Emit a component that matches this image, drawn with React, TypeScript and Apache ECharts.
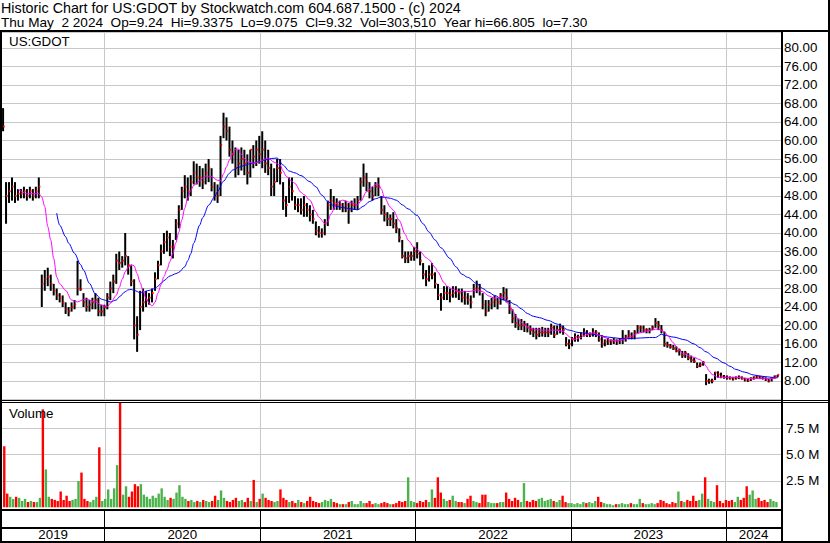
import React, { useEffect, useRef } from 'react';
import * as echarts from 'echarts';

// ---- time frame ----
const FIRST_WEEK = Date.UTC(2019, 4, 8); // Wednesday of first weekly bar
const WEEK_MS = 7 * 24 * 3600 * 1000;
const X_MIN = Date.UTC(2019, 4, 5, 12);
const X_MAX = Date.UTC(2024, 4, 9);
const YEARS = [2019, 2020, 2021, 2022, 2023, 2024];

// ---- weekly prices (USD) ----
const highs = [
  67, 51, 51, 52, 51, 49.5, 49.5, 50, 49.5, 50,
  49.5, 50, 52, 31, 32, 32.5, 31, 29, 28, 27,
  26.5, 25, 24, 25, 25.5, 34, 30, 27, 26, 25.5,
  26, 27, 26, 24.5, 24.5, 27, 29.5, 31, 35.5, 36,
  35, 40, 35, 33, 30, 22, 27.5, 28, 27.5, 27,
  28, 31.5, 34, 37.5, 40, 40.5, 40, 38.5, 43, 46,
  50, 52.5, 52, 52.5, 55.5, 55, 54.5, 54, 55, 56,
  54, 51, 50.5, 61, 66, 65, 63, 60, 58.5, 58,
  58.5, 58, 57, 58, 59, 60, 61, 62, 60, 58,
  55, 54, 56, 56, 51, 48, 52, 52, 48, 47.5,
  47.5, 48, 46.5, 46, 45, 42.5, 41.5, 41, 43, 47,
  49.5, 48, 47.5, 47, 46.5, 47, 46.5, 47, 47.5, 48,
  52, 55, 53, 51, 50, 51, 52, 48, 46, 44.5,
  44, 44.5, 43, 41, 38.5, 36, 36, 36, 37, 38,
  36, 33.5, 32, 33, 33.5, 31.5, 29, 27, 28.5, 28.5,
  28, 28.5, 28.5, 28, 28, 27.5, 27, 26.5, 29, 29.7,
  29, 27, 25.5, 25.5, 26, 26.5, 26, 27, 28.3, 28,
  25.5, 23.5, 22.5, 21.5, 21.4, 21, 20.5, 20, 19.5, 19.5,
  19.5, 19.7, 19.5, 19.5, 20.4, 20, 20, 20.4, 20, 17.5,
  17, 17.5, 18.3, 18, 18.5, 19.4, 19, 18.5, 19.4, 19,
  18.5, 17.9, 17, 17.3, 17, 17.3, 17, 17.3, 19, 18,
  19, 18.5, 19, 20.1, 20, 20, 19.4, 19.5, 20, 21.6,
  21, 20.1, 18.7, 16.5, 16, 15.8, 15.5, 15, 14.5, 14.5,
  14, 13.5, 13, 12, 12, 12.3, 9.5, 8.5, 8.5, 10,
  10.1, 9.8, 9.3, 9.2, 9, 8.9, 9, 9.2, 9, 8.7,
  8.5, 8.8, 9, 9.2, 9.1, 9, 8.8, 8.5, 8.8, 9.2,
  9.34,
];
const lows = [
  62, 42, 46.5, 47, 46.5, 47, 47.5, 47.5, 47, 47.5,
  47, 47.5, 47.5, 24, 27.5, 28.5, 27.5, 26.5, 25.5, 25,
  24, 22.5, 22, 23, 23.5, 26.5, 27.5, 24, 23, 23,
  23.5, 23.5, 22, 22, 22, 23.5, 25.5, 27, 29, 32,
  32.5, 33, 31, 28.5, 17, 14.3, 19, 23, 24, 24.5,
  25, 27.5, 30, 33, 35.5, 36, 35, 34.5, 38.5, 41,
  45, 47.5, 47, 48, 50.5, 50.5, 50, 49.5, 50.5, 51,
  49, 47, 46.5, 48, 60.5, 60, 56.5, 55, 52, 52.5,
  53.5, 52.5, 50.5, 52, 54, 54.5, 55, 54, 53, 52.5,
  48, 48, 51, 50.5, 45, 43.5, 46.5, 47, 45, 44.5,
  44, 43.5, 43.5, 42.5, 42, 39.5, 39, 39, 39.5, 41.5,
  45, 45, 45, 45, 44.5, 44.5, 42, 44.5, 45, 45,
  47, 50, 49, 47.5, 47, 48, 48, 44, 42.5, 41.5,
  41.5, 41, 40, 38, 34.5, 33.5, 33.5, 34, 34, 34.5,
  33, 30, 28.5, 29.5, 30, 28, 25.5, 23.2, 25.5, 25.5,
  25, 26, 26, 25.5, 25, 24.5, 24.5, 23.7, 26, 27,
  26.5, 23.5, 22, 23, 23.5, 24, 23.5, 24.5, 25.5, 25,
  22.5, 20.5, 19.5, 19, 19, 18.6, 18.5, 18, 17.5, 17,
  17.5, 17.6, 17.5, 17.5, 18, 17.3, 18, 18.3, 18, 15.5,
  14.9, 15.5, 16.5, 16.5, 17, 17.6, 17.5, 17.5, 17.6, 17.5,
  16.5, 15.2, 15.5, 15.8, 15.8, 16, 15.8, 16, 16, 16.5,
  17, 17, 17, 18.3, 18.5, 18.5, 18.3, 18.3, 19, 19.5,
  19, 18.3, 15.4, 15.2, 15, 14.7, 14.2, 13.5, 13, 13,
  12.5, 12, 11.9, 10.8, 11, 11.3, 7.1, 7.4, 7.5, 8.2,
  8.7, 8.6, 8.5, 8.3, 8.3, 8.1, 8.3, 8.4, 8.3, 7.9,
  7.8, 8, 8.3, 8.5, 8.4, 8.3, 8, 7.7, 7.9, 8.5,
  8.8,
];
const closes = [
  63, 48, 49, 50, 48, 48.5, 48.5, 49, 48, 49,
  48, 49, 50, 29, 30, 30.5, 29, 27.5, 26.5, 26,
  25, 23.5, 23, 24, 24.5, 28, 27.8, 25, 24, 24.5,
  25, 25.5, 23, 23, 24, 26, 28, 29.5, 34, 33.5,
  34, 35, 33, 29.5, 20, 18, 24, 25, 25.5, 26,
  27, 30, 33, 36, 38, 39, 37, 37, 42, 45,
  49, 50, 49, 51, 53, 52, 52, 51, 53, 54,
  50, 48, 48, 59, 63, 62, 58, 57, 54, 55,
  56, 55, 53, 58, 56.5, 58, 57, 58, 55, 54,
  50, 51, 54, 53, 47, 46, 50, 49, 46, 46,
  45, 46, 45, 44, 43, 40.5, 40, 40, 42, 46,
  47, 46.5, 46, 46, 45.5, 46, 45, 46, 46, 47,
  51, 52, 51, 49, 48, 50, 50, 45, 44, 43,
  43, 42, 41, 39, 35, 34.5, 35, 35, 36, 35.5,
  34, 31, 30, 31, 31, 29, 26.5, 26, 27, 27,
  26.5, 27, 27.5, 27, 26, 26, 25.5, 25, 28, 28,
  27.5, 24.5, 23, 24.5, 25, 25.5, 25, 26.5, 27, 26,
  23.5, 21.5, 20.5, 20, 20, 20.2, 19.5, 19, 18.5, 18,
  18.5, 18.5, 18.5, 18.5, 19.5, 18, 19, 19.5, 19, 16,
  16, 17, 17.5, 17.5, 18, 18.5, 18, 18, 18.5, 18.5,
  17, 16, 16.5, 16.5, 16.5, 16.8, 16.5, 16.8, 17, 17.5,
  18, 17.5, 18.5, 19.5, 19.5, 19, 19, 19, 19.5, 20.5,
  20, 19, 16, 15.8, 15.4, 15, 14.5, 14.6, 13.5, 14,
  13, 12.5, 12.2, 11.2, 11.5, 12, 8, 8, 8, 9.8,
  9.4, 9, 8.8, 8.7, 8.6, 8.5, 8.7, 8.8, 8.5, 8.2,
  8.1, 8.5, 8.8, 8.9, 8.7, 8.6, 8.3, 8, 8.6, 9,
  9.32,
];

// ---- weekly volume (millions of shares) ----
const volumes = [
  5.8, 1.3, 1.0, 0.8, 1.0, 0.9, 0.6, 0.8, 0.5, 0.6,
  0.5, 0.5, 0.9, 9.3, 3.6, 1.0, 0.8, 0.7, 0.6, 1.5,
  0.7, 1.1, 0.6, 0.7, 0.8, 2.5, 3.3, 0.8, 0.6, 0.5,
  0.7, 1.0, 5.7, 0.6, 0.8, 1.7, 0.8, 1.8, 4.0, 10.5,
  1.2, 2.0, 1.0, 1.5, 2.2, 2.0, 2.2, 1.2, 1.0, 0.8,
  1.1, 0.9, 1.3, 1.8, 1.0, 0.7, 0.9, 0.8, 1.4, 2.1,
  1.0, 0.8, 0.6, 0.7, 0.5, 0.6, 0.5, 0.7, 0.6, 0.5,
  0.6, 1.1, 0.7, 1.6, 0.9, 0.6, 0.5, 0.7, 0.9, 0.6,
  0.7, 0.5, 0.9, 0.6, 2.6, 0.5, 0.8, 1.3, 0.9, 0.7,
  0.6, 0.5, 0.6, 1.7, 0.9, 0.7, 0.5, 0.6, 0.4, 0.7,
  0.5, 0.4, 0.6, 1.0, 0.6, 0.5, 0.4, 0.5, 0.7, 0.6,
  0.8, 0.5, 0.4, 0.3, 0.3, 0.3, 0.5, 0.6, 0.3, 0.3,
  0.6, 0.4, 0.4, 0.6, 0.3, 0.4, 0.3, 0.4, 0.5, 0.4,
  0.3, 0.3, 0.4, 0.6, 0.5, 0.6, 2.85, 0.6, 0.5, 0.4,
  0.6, 0.5, 0.7, 0.5, 1.7, 0.9, 2.85, 1.4, 0.8, 0.6,
  0.7, 1.1, 0.6, 0.5, 0.5, 0.4, 0.8, 1.1, 0.6, 0.5,
  0.4, 1.2, 1.2, 0.5, 0.4, 0.4, 0.4, 0.5, 0.5, 1.4,
  0.8, 0.6, 0.9, 0.7, 0.5, 2.3, 0.6, 0.5, 0.7, 0.6,
  0.8, 0.9, 0.6, 0.7, 0.8, 0.6, 0.5, 0.7, 1.1, 0.5,
  0.4, 0.4, 0.3, 0.4, 0.3, 0.5, 0.4, 0.5, 0.4, 0.6,
  1.0, 0.5, 0.4, 0.3, 0.3, 0.2, 0.3, 0.3, 0.4, 0.3,
  0.3, 0.4, 0.3, 0.3, 0.8, 0.4, 0.3, 0.3, 0.4, 0.3,
  0.4, 0.7, 0.6, 0.4, 0.3, 0.5, 0.4, 1.5, 0.6, 0.5,
  0.7, 0.6, 1.1, 0.6, 0.7, 1.3, 2.85, 0.8, 0.6, 0.5,
  2.1, 0.6, 0.4, 0.7, 0.6, 0.7, 0.5, 1.0, 0.7, 0.9,
  2.0, 1.2, 1.6, 0.8, 0.9, 0.6, 0.7, 0.5, 0.8, 0.6,
  0.5,
];

// ---- moving averages: [week index, value] ----
const maShort = [
  [5, 49.5], [8, 48.5], [12, 48.5], [13, 47.8], [14, 45.7], [15, 41.4], [16, 38.5], [17, 34.5], [18, 30.5], [19, 29],
  [21, 27.6], [23, 25.5], [25, 25.1], [27, 25.6], [28, 25.7], [31, 25.1], [33, 24.4], [35, 24.1], [36, 24.8], [38, 26.5],
  [39, 28.2], [40, 30], [41, 31.6], [42, 32.6], [43, 33.2], [44, 32.9], [45, 31.2], [46, 29.3], [47, 27.5], [48, 25.8],
  [49, 24.9], [50, 24.2], [51, 25], [52, 27], [53, 28.8], [54, 30.6], [55, 32], [56, 33.8], [57, 35.6], [58, 37.9],
  [59, 40.2], [60, 42.8], [61, 45.4], [62, 47.6], [63, 49.2], [64, 50.3], [66, 51.3], [68, 52.3], [70, 52.2], [72, 51.4],
  [73, 51.3], [74, 52.8], [75, 54.3], [76, 55.8], [77, 57.1], [78, 58], [79, 58.2], [80, 57], [81, 56.1], [82, 55.4],
  [84, 55.1], [86, 55.4], [88, 56], [89, 56.2], [91, 55.3], [93, 54.7], [94, 53.4], [95, 52.3], [97, 51.2], [98, 50.7],
  [100, 48.8], [101, 48.3], [103, 47.1], [105, 44.6], [106, 43.4], [108, 42.1], [109, 42.4], [110, 44.1], [112, 46.4], [114, 47.1],
  [116, 46.7], [118, 46.3], [119, 46.1], [120, 46.8], [122, 48.9], [124, 50], [125, 50.5], [126, 50.6], [127, 49.5], [128, 47.7],
  [130, 45.6], [131, 44.9], [133, 42.7], [135, 39.7], [136, 38.4], [138, 36.9], [140, 36], [142, 34.7], [143, 34.2], [145, 32.6],
  [146, 31.5], [148, 29.3], [149, 28.5], [151, 27.8], [153, 27.3], [155, 27.3], [157, 27.4], [159, 27.7], [161, 27.3], [163, 26.4],
  [165, 25.9], [167, 26.1], [168, 26], [170, 24.5], [171, 23.3], [172, 22.2], [173, 21.2], [175, 20.1], [177, 19.4], [179, 19.1],
  [181, 19], [186, 19], [188, 18.7], [189, 18.2], [190, 17.6], [191, 17.1], [192, 17], [194, 17.4], [195, 17.8], [197, 18.3],
  [198, 18.4], [200, 17.9], [202, 17.4], [204, 16.8], [206, 16.7], [208, 16.9], [210, 17.4], [212, 18], [213, 18.3], [215, 18.6],
  [217, 18.9], [219, 19.2], [220, 19.2], [221, 18.9], [222, 18.6], [223, 17.9], [225, 16.3], [226, 15.4], [227, 14.7], [228, 14],
  [230, 13.5], [232, 13.1], [234, 12.6], [235, 12.1], [236, 11.2], [237, 10.2], [238, 9.4], [240, 8.8], [243, 8.8], [246, 8.8],
  [249, 8.6], [252, 8.5], [255, 8.6], [257, 8.5], [260, 8.7],
];
const maLong = [
  [18, 44.3], [19, 41.7], [21, 39.2], [22, 37.8], [24, 35.6], [26, 33.2], [27, 32], [29, 29.1], [31, 26.8], [33, 25.7],
  [34, 25.5], [36, 25.1], [38, 25.5], [39, 26.2], [41, 27.3], [42, 27.7], [43, 27.8], [44, 27.6], [46, 27.1], [47, 27.2],
  [49, 27.6], [51, 28], [52, 28.5], [53, 29.1], [54, 29.7], [56, 30.7], [58, 31.2], [59, 31.5], [61, 32.7], [62, 34],
  [63, 35.5], [64, 37.8], [66, 41.7], [67, 43.3], [69, 46], [71, 47.8], [72, 49], [74, 51.2], [76, 52.9], [77, 53.6],
  [79, 54.2], [81, 54.6], [83, 55], [86, 55.4], [88, 55.8], [90, 56.1], [92, 56.2], [94, 54.7], [96, 53.4], [98, 53],
  [100, 52.4], [103, 51.1], [105, 50], [107, 48.2], [109, 46.8], [111, 45.9], [114, 45.5], [116, 45.3], [119, 45], [121, 45.8],
  [123, 46.8], [125, 47.4], [127, 47.8], [130, 47.5], [132, 47.1], [134, 46.1], [136, 45.2], [139, 43.8], [141, 42], [143, 40.2],
  [145, 38.5], [147, 36.8], [150, 34.5], [152, 32.7], [154, 31.1], [156, 30.4], [159, 29.1], [161, 28], [163, 27.2], [165, 26.5],
  [168, 25.5], [170, 25.1], [172, 24.5], [174, 23.6], [176, 22.6], [178, 22], [180, 21.7], [183, 21.1], [186, 20.3], [190, 19],
  [193, 18.5], [196, 18.3], [199, 18], [203, 17.5], [207, 17.2], [211, 17.2], [214, 17.3], [217, 17.4], [219, 17.4], [221, 18.1],
  [222, 17.9], [225, 17.5], [229, 16.9], [232, 16], [234, 15.2], [236, 14.3], [239, 13], [242, 11.9], [244, 11.2], [246, 10.5],
  [249, 9.9], [252, 9.3], [255, 9], [258, 8.8], [260, 8.7],
];

const HEADER_1 = 'Historic Chart for US:GDOT by Stockwatch.com 604.687.1500 - (c) 2024';
const HEADER_2 = 'Thu May \u00a02 2024 \u00a0Op=9.24 \u00a0Hi=9.3375 \u00a0Lo=9.075 \u00a0Cl=9.32 \u00a0Vol=303,510 \u00a0Year hi=66.805 \u00a0lo=7.30';
const SYMBOL = 'US:GDOT';

const FONT = 'Liberation Sans, Arial, Helvetica, sans-serif';
const FS = 13.33;
const GRID_C = '#c8c8c8';
const RED = '#ff0000';
const GREEN = '#4cb34c';

const weekTs = (i: number) => FIRST_WEEK + i * WEEK_MS;

function buildOption(): any {
  const ohlc = highs.map((h, i) => [weekTs(i), h, lows[i], closes[i]]);
  const volData = volumes.map((v, i) => ({
    value: [weekTs(i), v],
    itemStyle: { color: i === 0 || closes[i] < closes[i - 1] ? RED : GREEN },
  }));
  const yearStarts = YEARS.slice(1).map((y) => Date.UTC(y, 0, 1));
  const xAxisBase = {
    type: 'time',
    min: X_MIN,
    max: X_MAX,
    axisLine: { show: false },
    axisTick: { show: false },
    axisLabel: { show: false },
    splitLine: { show: false },
  };
  const vLine = (color: string, width: number, z: number) => ({
    silent: true,
    z,
    symbol: ['none', 'none'],
    label: { show: false },
    lineStyle: { color, width, type: 'solid' },
    emphasis: { disabled: true },
    data: yearStarts.map((t) => ({ xAxis: t })),
  });
  const hl = (x: number, y: number, w: number, h: number) => ({
    type: 'rect',
    shape: { x, y, width: w, height: h },
    style: { fill: '#000' },
    silent: true,
    z: 100,
  });
  const txt = (text: string, x: number, y: number, size: number) => ({
    type: 'text',
    x,
    y,
    silent: true,
    z: 100,
    style: {
      text,
      fill: '#000',
      fontSize: size,
      fontFamily: FONT,
      lineHeight: 13,
      verticalAlign: 'middle',
      align: 'left',
    },
  });

  return {
    animation: false,
    backgroundColor: '#fff',
    textStyle: { fontFamily: FONT },
    grid: [
      { left: 2, right: 49, top: 32, height: 367.5 },
      { left: 2, right: 49, top: 402, height: 105.3 },
      { left: 2, right: 49, top: 510, height: 31 },
    ],
    xAxis: [0, 1, 2].map((g) => ({ ...xAxisBase, gridIndex: g })),
    yAxis: [
      {
        type: 'value',
        gridIndex: 0,
        position: 'right',
        min: 4,
        max: 83.459,
        interval: 4,
        axisLine: { show: false },
        axisTick: { show: false },
        axisLabel: {
          margin: 3,
          align: 'left',
          color: '#000',
          fontSize: FS,
          fontFamily: FONT,
          formatter: (v: number) => (v > 6 && v < 80.5 ? v.toFixed(2) : ''),
        },
        splitLine: { show: true, lineStyle: { color: GRID_C, width: 1 } },
      },
      {
        type: 'value',
        gridIndex: 1,
        position: 'right',
        min: 0,
        max: 10,
        interval: 2.5,
        axisLine: { show: false },
        axisTick: { show: false },
        axisLabel: {
          margin: 5,
          align: 'left',
          color: '#000',
          fontSize: FS,
          fontFamily: FONT,
          formatter: (v: number) => (v > 0.1 && v < 9.9 ? v.toFixed(1) + ' M' : ''),
        },
        splitLine: {
          show: true,
          lineStyle: { color: ['rgba(0,0,0,0)', GRID_C, GRID_C, GRID_C, 'rgba(0,0,0,0)'], width: 1 },
        },
      },
      { type: 'value', gridIndex: 2, min: 0, max: 31, show: false },
    ],
    series: [
      {
        name: 'price grid',
        type: 'line',
        xAxisIndex: 0,
        yAxisIndex: 0,
        data: [],
        markLine: vLine(GRID_C, 1, 1),
      },
      {
        name: 'OHLC',
        type: 'custom',
        xAxisIndex: 0,
        yAxisIndex: 0,
        data: ohlc,
        encode: { x: 0, y: [1, 2, 3] },
        z: 3,
        renderItem: (params: any, api: any) => {
          const t = api.value(0);
          const hi = api.coord([t, api.value(1)]);
          const lo = api.coord([t, api.value(2)]);
          const cl = api.coord([t, api.value(3)]);
          return {
            type: 'group',
            children: [
              {
                type: 'rect',
                shape: { x: hi[0] - 1, y: hi[1], width: 2, height: Math.max(lo[1] - hi[1], 1) },
                style: { fill: '#000' },
              },
              {
                type: 'rect',
                shape: { x: cl[0], y: cl[1] - 1, width: 1.6, height: 1.8 },
                style: { fill: RED },
              },
            ],
          };
        },
      },
      {
        name: 'MA long',
        type: 'line',
        xAxisIndex: 0,
        yAxisIndex: 0,
        data: maLong.map(([w, v]) => [weekTs(w), v]),
        showSymbol: false,
        symbol: 'none',
        smooth: 0.3,
        smoothMonotone: 'x',
        lineStyle: { color: '#0000ff', width: 1 },
        z: 4,
      },
      {
        name: 'MA short',
        type: 'line',
        xAxisIndex: 0,
        yAxisIndex: 0,
        data: maShort.map(([w, v]) => [weekTs(w), v]),
        showSymbol: false,
        symbol: 'none',
        smooth: 0.3,
        smoothMonotone: 'x',
        lineStyle: { color: '#ff00ff', width: 1 },
        z: 5,
      },
      {
        name: 'volume grid',
        type: 'line',
        xAxisIndex: 1,
        yAxisIndex: 1,
        data: [],
        markLine: vLine(GRID_C, 1, 1),
      },
      {
        name: 'Volume',
        type: 'bar',
        xAxisIndex: 1,
        yAxisIndex: 1,
        data: volData,
        barWidth: 2.4,
        z: 3,
      },
      {
        name: 'years',
        type: 'line',
        xAxisIndex: 2,
        yAxisIndex: 2,
        data: [],
        markLine: vLine('#000', 1, 5),
        markArea: {
          silent: true,
          itemStyle: { color: 'rgba(0,0,0,0)' },
          label: { show: true, position: 'inside', color: '#000', fontSize: FS, fontFamily: FONT },
          data: YEARS.map((y, k) => [
            { name: String(y), xAxis: k === 0 ? X_MIN : Date.UTC(y, 0, 1), yAxis: 0 },
            { xAxis: k === YEARS.length - 1 ? X_MAX : Date.UTC(y + 1, 0, 1), yAxis: 13.5 },
          ]),
        },
      },
    ],
    graphic: [
      // frame
      hl(0, 30, 830, 2),
      hl(0, 30, 2, 513),
      hl(828, 0, 2, 543),
      hl(0, 541, 830, 2),
      hl(781, 32, 2, 510),
      hl(0, 400, 830, 1),
      hl(0, 402, 830, 1),
      hl(0, 509, 783, 2),
      hl(0, 527, 783, 2),
      // texts
      txt(HEADER_1, 1, 8, 14.3),
      txt(HEADER_2, 1, 22, 13.6),
      txt(SYMBOL, 9, 41, FS),
      txt('Volume', 9, 413, FS),
    ],
  };
}

export default function App() {
  const ref = useRef<HTMLDivElement>(null);
  useEffect(() => {
    if (!ref.current) return;
    const chart = echarts.init(ref.current, null, { renderer: 'svg' });
    chart.setOption(buildOption());
    return () => chart.dispose();
  }, []);
  return (
    <div
      ref={ref}
      style={{ position: 'absolute', left: 0, top: 0, width: 830, height: 543, background: '#fff' }}
    />
  );
}
